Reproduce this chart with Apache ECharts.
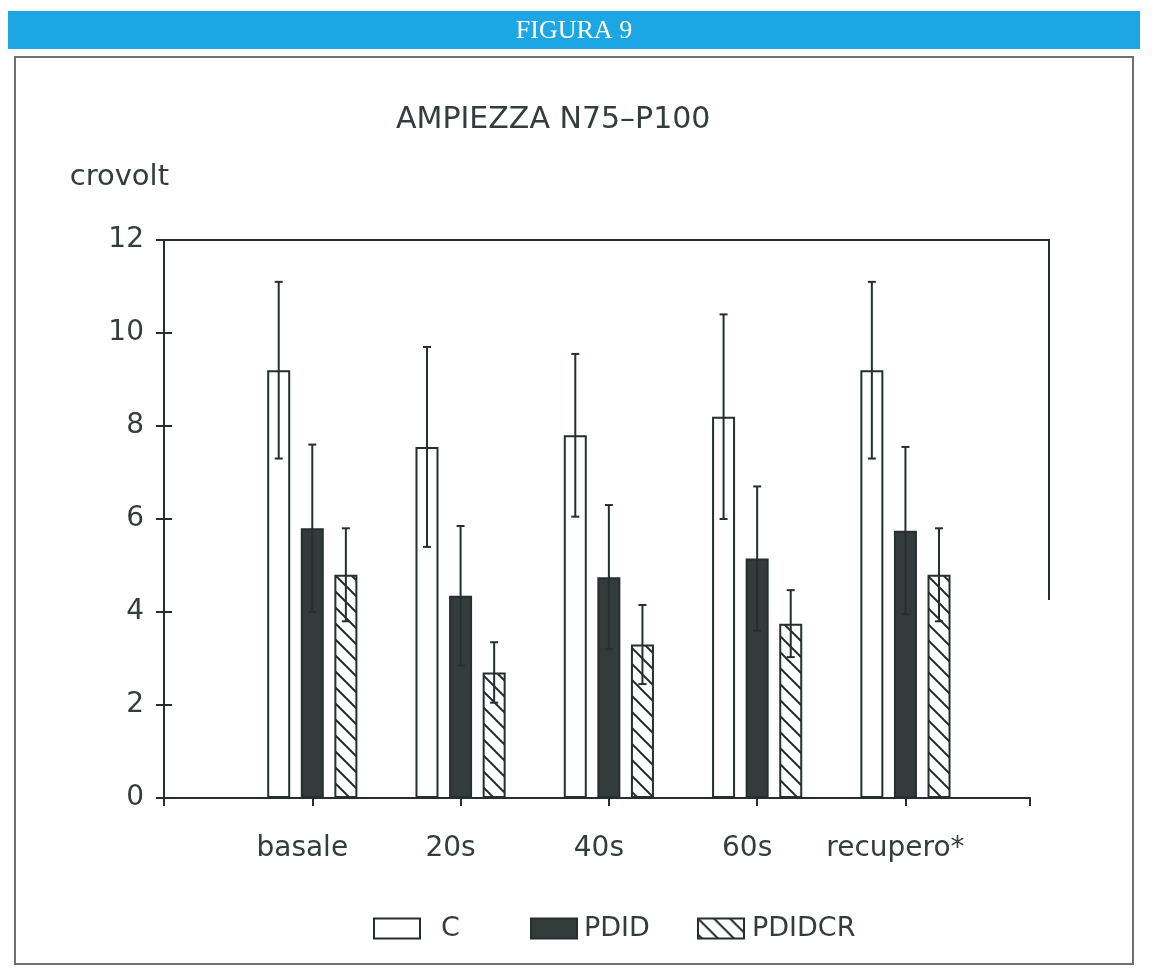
<!DOCTYPE html>
<html>
<head>
<meta charset="utf-8">
<title>FIGURA 9 – Ampiezza N75–P100</title>
<script src="https://cdn.jsdelivr.net/npm/echarts@6/dist/echarts.min.js"></script>
<style>
  html, body { margin: 0; padding: 0; background: #ffffff; }
  #chart { width: 1154px; height: 970px; }
</style>
</head>
<body>
<div id="chart"></div>
<script>
// Time points of the recording
const categories = ['basale', '20s', '40s', '60s', 'recupero*'];

// Mean amplitude (microvolt) and standard deviation per group
const C         = [9.2, 7.55, 7.8, 8.2, 9.2];
const C_sd      = [1.9, 2.15, 1.75, 2.2, 1.9];
const PDID      = [5.8, 4.35, 4.75, 5.15, 5.75];
const PDID_sd   = [1.8, 1.5, 1.55, 1.55, 1.8];
const PDIDCR    = [4.8, 2.7, 3.3, 3.75, 4.8];
const PDIDCR_sd = [1.0, 0.65, 0.85, 0.72, 1.0];

// Y axis ticks
const yTicks = [0, 2, 4, 6, 8, 10, 12];

// ---- layout / style ----
const GRID = { left: 164, top: 240, width: 866, height: 558 };
const INK = '#262e2e';
const TEXT = '#343c3c';
const FONT = "'DejaVu Sans', 'Liberation Sans', sans-serif";
const BAR_W = 23;
const BAR_GAP = 0.46;               // fraction of bar width
const PITCH = BAR_W * (1 + BAR_GAP);

// diagonal hatch fill for PDIDCR
function hatch() {
  const s = 16;
  const c = document.createElement('canvas');
  c.width = s; c.height = s;
  const g = c.getContext('2d');
  g.fillStyle = '#ffffff';
  g.fillRect(0, 0, s, s);
  g.strokeStyle = INK;
  g.lineWidth = 2;
  for (const o of [-s, 0, s]) {
    g.beginPath();
    g.moveTo(o - 2, -2);
    g.lineTo(o + s + 2, s + 2);
    g.stroke();
  }
  return { image: c, repeat: 'repeat' };
}

const xPos = categories.map((_, i) => i + 1);
const pairs = (vals) => vals.map((v, i) => [xPos[i], v]);
const triples = (vals, sd) => vals.map((v, i) => [xPos[i], v, sd[i]]);

function barSeries(name, vals, color) {
  return {
    name, type: 'bar', data: pairs(vals),
    barWidth: BAR_W, barGap: (BAR_GAP * 100) + '%',
    itemStyle: { color, borderColor: INK, borderWidth: 2 },
    silent: true, z: 2
  };
}

function errorSeries(vals, sd, slot) {
  return {
    type: 'custom', data: triples(vals, sd), z: 5, silent: true,
    renderItem(params, api) {
      const x = api.value(0), y = api.value(1), e = api.value(2);
      const hi = api.coord([x, y + e]);
      const lo = api.coord([x, y - e]);
      const cx = hi[0] + slot * PITCH;
      const st = { stroke: INK, lineWidth: 2 };
      return {
        type: 'group',
        children: [
          { type: 'line', shape: { x1: cx, y1: hi[1], x2: cx, y2: lo[1] }, style: st },
          { type: 'line', shape: { x1: cx - 4, y1: hi[1], x2: cx + 4, y2: hi[1] }, style: st },
          { type: 'line', shape: { x1: cx - 4, y1: lo[1], x2: cx + 4, y2: lo[1] }, style: st }
        ]
      };
    }
  };
}

function legendItem(name, left, textGap) {
  return {
    data: [{ name, icon: 'rect' }], left, top: 910, orient: 'horizontal',
    itemWidth: 46, itemHeight: 20, selectedMode: false,
    textStyle: { fontSize: 27, color: TEXT, fontFamily: FONT, padding: [0, 0, 0, textGap] }
  };
}

const chart = echarts.init(document.getElementById('chart'), null, { renderer: 'canvas' });

const axisLineStyle = { color: INK, width: 2 };

chart.setOption({
  backgroundColor: '#ffffff',
  animation: false,
  title: {
    text: 'AMPIEZZA N75–P100',
    left: 391, top: 100,
    textStyle: { fontSize: 30, fontWeight: 'normal', color: TEXT, fontFamily: FONT }
  },
  grid: [
    Object.assign({}, GRID),
    Object.assign({}, GRID)
  ],
  xAxis: [
    {
      type: 'value', gridIndex: 0, min: 0, max: 5.84, interval: 1,
      axisLine: { show: true, onZero: false, lineStyle: axisLineStyle },
      axisTick: { show: true, length: 8, lineStyle: axisLineStyle },
      splitLine: { show: false },
      axisLabel: {
        fontSize: 28, color: TEXT, fontFamily: FONT, margin: 37,
        padding: [0, 20, 0, 0],
        formatter: (v) => (Number.isInteger(v) && v >= 1 && v <= categories.length) ? categories[v - 1] : ''
      }
    },
    {
      type: 'value', gridIndex: 1, min: 0, max: 5.84, show: false
    }
  ],
  yAxis: [
    {
      type: 'value', gridIndex: 0, min: yTicks[0], max: yTicks[yTicks.length - 1], interval: 2,
      name: 'crovolt', nameLocation: 'end', nameGap: 48,
      nameTextStyle: { fontSize: 29, color: TEXT, fontFamily: FONT, align: 'right', padding: [0, -5, 0, 0] },
      axisLine: { show: true, lineStyle: axisLineStyle },
      axisTick: { show: true, length: 8, lineStyle: axisLineStyle },
      splitLine: { show: false },
      axisLabel: { fontSize: 28, color: TEXT, fontFamily: FONT, margin: 20 }
    },
    {
      // inner half of the crossing ticks
      type: 'value', gridIndex: 1, min: yTicks[0], max: yTicks[yTicks.length - 1], interval: 2,
      axisLine: { show: false },
      axisTick: { show: true, inside: true, length: 8, lineStyle: axisLineStyle },
      axisLabel: { show: false },
      splitLine: { show: false }
    }
  ],
  legend: [
    legendItem('C', 368, 16),
    legendItem('PDID', 525, 2),
    legendItem('PDIDCR', 692, 3)
  ],
  series: [
    barSeries('C', C, '#ffffff'),
    barSeries('PDID', PDID, '#333b3b'),
    barSeries('PDIDCR', PDIDCR, hatch()),
    errorSeries(C, C_sd, -1),
    errorSeries(PDID, PDID_sd, 0),
    errorSeries(PDIDCR, PDIDCR_sd, 1)
  ],
  graphic: [
    // page banner
    { type: 'rect', shape: { x: 8, y: 11, width: 1132, height: 38 }, style: { fill: '#1ca7e4' }, z: 0 },
    {
      type: 'text', x: 574, y: 31,
      style: { text: 'FIGURA 9', fill: '#ffffff', font: "26px 'Liberation Serif', serif", align: 'center', verticalAlign: 'middle' },
      z: 1
    },
    // outer box
    { type: 'rect', shape: { x: 15, y: 57, width: 1118, height: 907 }, style: { fill: 'none', stroke: '#707070', lineWidth: 2 }, z: 0 },
    // plot frame: top and right edge
    {
      type: 'polyline',
      shape: { points: [[GRID.left - 8, GRID.top], [1049, GRID.top], [1049, 600]] },
      style: { fill: 'none', stroke: INK, lineWidth: 2 },
      z: 3
    }
  ]
});
</script>
</body>
</html>
